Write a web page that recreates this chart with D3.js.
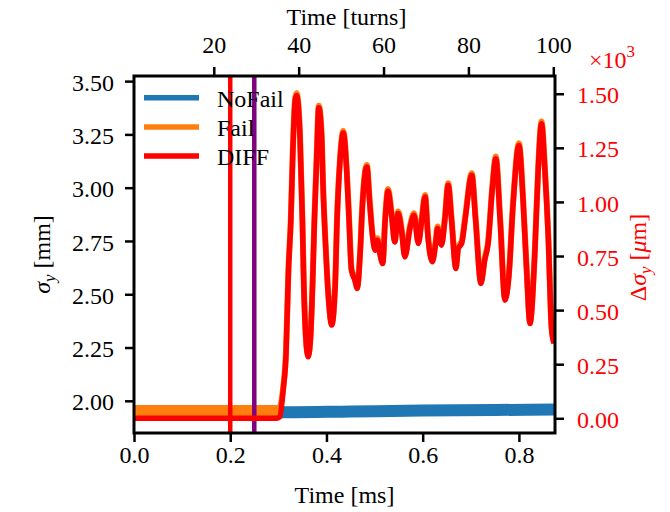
<!DOCTYPE html>
<html>
<head>
<meta charset="utf-8">
<script src="https://cdn.jsdelivr.net/npm/d3@7"></script>
<style>
  body { margin: 0; background: #fff; }
  svg text { font-family: "Liberation Serif", "DejaVu Serif", serif !important; }
  .tick line { stroke: #000; stroke-width: 2.5; }
</style>
</head>
<body>
<svg id="chart" width="670" height="512"></svg>
<script>
// ---- data ----
const timeDomain = [0, 0.875];          // ms
const turnsDomain = [1.2, 100.4];       // top axis, turns
const sigmaDomain = [1.849, 3.524];     // mm
const diffDomain = [-0.068, 1.582];     // x10^3 um

const timeTicks = [0.0, 0.2, 0.4, 0.6, 0.8];
const turnTicks = [20, 40, 60, 80, 100];
const sigmaTicks = [2.00, 2.25, 2.50, 2.75, 3.00, 3.25, 3.50];
const diffTicks = [0.00, 0.25, 0.50, 0.75, 1.00, 1.25, 1.50];

const markerTimes = [0.2, 0.25];
const riseTime = 0.303;

const noFailTime = [0, 0.15, 0.32, 0.45, 0.6, 0.75, 0.875];
const noFailSigma = [1.948, 1.948, 1.946, 1.950, 1.954, 1.957, 1.959];

const diffTime = [0, 0.296, 0.303,
  0.310, 0.316, 0.321, 0.326, 0.330, 0.335, 0.338,
  0.345, 0.350, 0.353, 0.357, 0.362, 0.367, 0.371, 0.375, 0.380, 0.384,
  0.390, 0.393, 0.399, 0.404, 0.411, 0.418, 0.422, 0.428, 0.435, 0.442,
  0.447, 0.452, 0.459, 0.464, 0.470, 0.475, 0.484, 0.490, 0.496, 0.501,
  0.506, 0.511, 0.517, 0.522, 0.528, 0.535, 0.542, 0.549, 0.556, 0.563,
  0.574, 0.582, 0.591, 0.598, 0.605, 0.611, 0.620, 0.627, 0.631, 0.636,
  0.639, 0.646, 0.653, 0.660, 0.669, 0.674, 0.681, 0.688, 0.702, 0.710,
  0.721, 0.729, 0.736, 0.745, 0.752, 0.761, 0.771, 0.779, 0.788, 0.800,
  0.809, 0.816, 0.823, 0.833, 0.840, 0.847, 0.854, 0.861, 0.868, 0.873];

const diffValue = [0, 0, 0.007,
  0.13, 0.30, 0.68, 0.915, 1.223, 1.469, 1.492,
  1.30, 0.915, 0.607, 0.377, 0.284, 0.377, 0.607, 0.915, 1.223, 1.435,
  1.30, 1.069, 0.761, 0.561, 0.431, 0.607, 0.915, 1.184, 1.318, 1.146,
  0.915, 0.684, 0.638, 0.600, 0.761, 0.992, 1.161, 0.992, 0.838, 0.777,
  0.823, 0.761, 0.715, 0.915, 1.050, 0.946, 0.815, 0.946, 0.869, 0.746,
  0.884, 0.938, 0.808, 0.915, 1.023, 0.838, 0.723, 0.808, 0.877, 0.823,
  0.800, 0.915, 1.077, 0.915, 0.692, 0.785, 0.808, 0.915, 1.123, 0.915,
  0.623, 0.731, 0.808, 1.069, 1.200, 0.915, 0.546, 0.654, 0.992, 1.261,
  0.992, 0.684, 0.438, 0.761, 1.146, 1.361, 1.146, 0.838, 0.408, 0.346];

const failSigma = [1.952, 1.952, 1.955,
  2.059, 2.232, 2.618, 2.857, 3.170, 3.420, 3.443,
  3.248, 2.857, 2.544, 2.310, 2.216, 2.310, 2.544, 2.857, 3.170, 3.385,
  3.248, 3.013, 2.700, 2.497, 2.365, 2.544, 2.857, 3.130, 3.266, 3.091,
  2.857, 2.622, 2.575, 2.537, 2.700, 2.935, 3.107, 2.935, 2.778, 2.716,
  2.763, 2.700, 2.653, 2.857, 2.994, 2.888, 2.755, 2.888, 2.810, 2.685,
  2.825, 2.880, 2.748, 2.857, 2.966, 2.778, 2.662, 2.748, 2.818, 2.763,
  2.740, 2.857, 3.021, 2.857, 2.630, 2.725, 2.748, 2.857, 3.068, 2.857,
  2.560, 2.670, 2.748, 3.013, 3.146, 2.857, 2.482, 2.591, 2.935, 3.208,
  2.935, 2.622, 2.372, 2.700, 3.091, 3.310, 3.091, 2.778, 2.342, 2.279];

const seriesNames = ["NoFail", "Fail", "DIFF"];
const seriesColors = ["#1f77b4", "#ff7f0e", "#ff0000"];
const markerColors = ["#ff0000", "#800080"];

// ---- layout ----
const plot = { left: 134, right: 555, top: 76, bottom: 433 };
const svg = d3.select("#chart");

const x = d3.scaleLinear(timeDomain, [plot.left, plot.right]);
const xTurns = d3.scaleLinear(turnsDomain, [plot.left, plot.right]);
const y = d3.scaleLinear(sigmaDomain, [plot.bottom, plot.top]);
const y2 = d3.scaleLinear(diffDomain, [plot.bottom, plot.top]);

svg.append("defs").append("clipPath").attr("id", "clip")
  .append("rect")
    .attr("x", plot.left).attr("y", plot.top)
    .attr("width", plot.right - plot.left)
    .attr("height", plot.bottom - plot.top);

const g = svg.append("g").attr("clip-path", "url(#clip)");

const lineSigma = d3.line()
  .x(d => x(d[0])).y(d => y(d[1]))
  .curve(d3.curveMonotoneX);
const lineDiff = d3.line()
  .x(d => x(d[0])).y(d => y2(d[1]))
  .curve(d3.curveMonotoneX);

// NoFail (noisy band)
g.append("path")
  .datum(d3.zip(noFailTime, noFailSigma))
  .attr("d", lineSigma)
  .attr("fill", "none")
  .attr("stroke", seriesColors[0])
  .attr("stroke-width", 12);

// Fail: noisy band before the failure, then follows the blow-up
const failPts = d3.zip(diffTime, failSigma);
g.append("path")
  .datum(failPts.filter(d => d[0] <= riseTime))
  .attr("d", lineSigma)
  .attr("fill", "none")
  .attr("stroke", seriesColors[1])
  .attr("stroke-width", 12);
g.append("path")
  .datum(failPts.filter(d => d[0] >= riseTime - 0.004))
  .attr("d", lineSigma)
  .attr("fill", "none")
  .attr("stroke", seriesColors[1])
  .attr("stroke-width", 6)
  .attr("stroke-linejoin", "round");

// vertical markers
g.selectAll("line.marker")
  .data(markerTimes)
  .enter().append("line")
    .attr("class", "marker")
    .attr("x1", d => x(d)).attr("x2", d => x(d))
    .attr("y1", plot.top).attr("y2", plot.bottom)
    .attr("stroke", (d, i) => markerColors[i])
    .attr("stroke-width", 4.5);

// DIFF on right axis
g.append("path")
  .datum(d3.zip(diffTime, diffValue))
  .attr("d", lineDiff)
  .attr("fill", "none")
  .attr("stroke", seriesColors[2])
  .attr("stroke-width", 5.5)
  .attr("stroke-linejoin", "round");

// legend (no frame)
const legend = svg.append("g");
seriesNames.forEach((name, i) => {
  const ly = 97.7 + i * 29.2;
  legend.append("line")
    .attr("x1", 144).attr("x2", 199)
    .attr("y1", ly).attr("y2", ly)
    .attr("stroke", seriesColors[i])
    .attr("stroke-width", 5.5);
  legend.append("text")
    .attr("x", 217).attr("y", ly + 9)
    .attr("font-size", 24)
    .text(name);
});

// axes
function styleAxis(sel, color) {
  sel.attr("font-family", null).attr("font-size", null);
  sel.select(".domain").remove();
  sel.selectAll("text")
    .attr("font-size", 24)
    .attr("fill", color);
}

svg.append("g")
  .attr("transform", `translate(0,${plot.bottom})`)
  .call(d3.axisBottom(x).tickValues(timeTicks).tickSize(9).tickPadding(4)
    .tickFormat(d3.format(".1f")))
  .call(s => styleAxis(s, "#000"));

svg.append("g")
  .attr("transform", `translate(0,${plot.top})`)
  .call(d3.axisTop(xTurns).tickValues(turnTicks).tickSize(9).tickPadding(14)
    .tickFormat(d3.format("d")))
  .call(s => styleAxis(s, "#000"));

svg.append("g")
  .attr("transform", `translate(${plot.left},0)`)
  .call(d3.axisLeft(y).tickValues(sigmaTicks).tickSize(9).tickPadding(11)
    .tickFormat(d3.format(".2f")))
  .call(s => styleAxis(s, "#000"))
  .selectAll("text").attr("dy", "0.38em");

svg.append("g")
  .attr("transform", `translate(${plot.right},0)`)
  .call(d3.axisRight(y2).tickValues(diffTicks).tickSize(9).tickPadding(13)
    .tickFormat(d3.format(".2f")))
  .call(s => styleAxis(s, "#ff0000"))
  .selectAll("text").attr("dy", "0.38em");

// frame
svg.append("rect")
  .attr("x", plot.left).attr("y", plot.top)
  .attr("width", plot.right - plot.left)
  .attr("height", plot.bottom - plot.top)
  .attr("fill", "none")
  .attr("stroke", "#000")
  .attr("stroke-width", 3);

// axis labels
svg.append("text")
  .attr("x", (plot.left + plot.right) / 2).attr("y", 503)
  .attr("text-anchor", "middle").attr("font-size", 24)
  .text("Time [ms]");

svg.append("text")
  .attr("x", (plot.left + plot.right) / 2 + 2).attr("y", 25)
  .attr("text-anchor", "middle").attr("font-size", 24)
  .text("Time [turns]");

const yl = svg.append("text")
  .attr("transform", `translate(50,${(plot.top + plot.bottom) / 2}) rotate(-90)`)
  .attr("text-anchor", "middle").attr("font-size", 24);
yl.append("tspan").attr("font-style", "italic").text("σ");
yl.append("tspan").attr("font-style", "italic").attr("font-size", 17).attr("dy", 5).text("y");
yl.append("tspan").attr("dy", -5).text(" [mm]");

const y2l = svg.append("text")
  .attr("transform", `translate(646,${(plot.top + plot.bottom) / 2 + 3}) rotate(-90)`)
  .attr("text-anchor", "middle").attr("font-size", 24).attr("fill", "#ff0000");
y2l.append("tspan").text("Δ");
y2l.append("tspan").attr("font-style", "italic").text("σ");
y2l.append("tspan").attr("font-style", "italic").attr("font-size", 17).attr("dy", 5).text("y");
y2l.append("tspan").attr("dy", -5).text(" [");
y2l.append("tspan").attr("font-style", "italic").text("μ");
y2l.append("tspan").text("m]");

// offset text x10^3
const off = svg.append("text")
  .attr("x", 589).attr("y", 67.5)
  .attr("font-size", 24).attr("fill", "#ff0000");
off.append("tspan").text("×10");
off.append("tspan").attr("font-size", 17).attr("dy", -11).text("3");
</script>
</body>
</html>
